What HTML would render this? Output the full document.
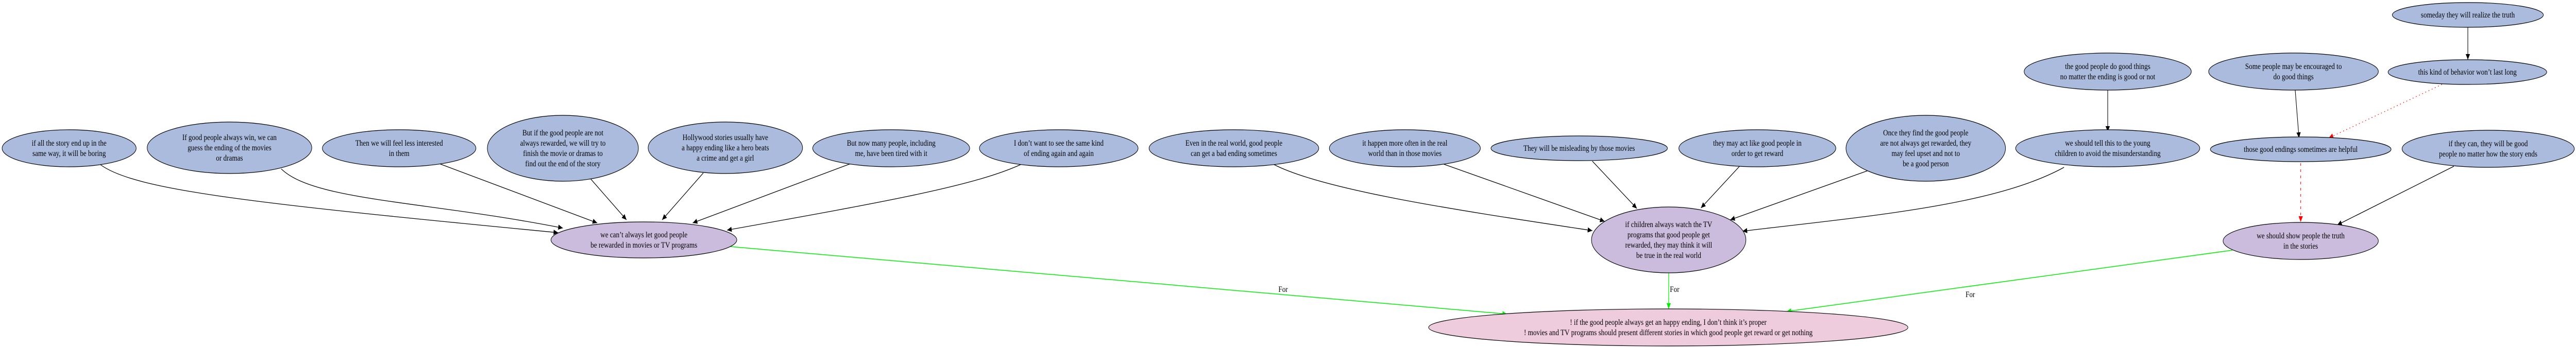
<!DOCTYPE html>
<html><head><meta charset="utf-8"><style>
html,body{margin:0;padding:0;background:#fff;width:100%;height:100%;overflow:hidden;}
svg{display:block;width:100vw;height:100vh;}
text{font-family:"Liberation Serif","Times New Roman",serif;font-size:16px;fill:#000;text-anchor:middle;}
.b{fill:#aabbdd;stroke:#000;stroke-width:1.2;}
.p{fill:#cbbbdd;stroke:#000;stroke-width:1.2;}
.k{fill:#eecbdd;stroke:#000;stroke-width:1.2;}
.e{fill:none;stroke:#000;stroke-width:1.3;}
.g{fill:none;stroke:#00ee00;stroke-width:1.5;}
</style></head><body>
<svg viewBox="0 0 6073 674" preserveAspectRatio="none" xmlns="http://www.w3.org/2000/svg">
<defs>
<marker id="ab" markerUnits="userSpaceOnUse" markerWidth="12" markerHeight="10" refX="11" refY="5" orient="auto"><path d="M0,0 L11,5 L0,10 z" fill="#000"/></marker>
<marker id="ag" markerUnits="userSpaceOnUse" markerWidth="12" markerHeight="10" refX="11" refY="5" orient="auto"><path d="M0,0 L11,5 L0,10 z" fill="#00ee00"/></marker>
<marker id="ar" markerUnits="userSpaceOnUse" markerWidth="12" markerHeight="10" refX="11" refY="5" orient="auto"><path d="M0,0 L11,5 L0,10 z" fill="#ff0000"/></marker>
</defs>

<path class="e" marker-end="url(#ab)" d="M237,320 C320,370 600,395 1316,452"/>
<path class="e" marker-end="url(#ab)" d="M663,328 C740,390 1000,390 1327,443"/>
<path class="e" marker-end="url(#ab)" d="M1036,318 L1408,433"/>
<path class="e" marker-end="url(#ab)" d="M1393,348 L1477,427"/>
<path class="e" marker-end="url(#ab)" d="M1658,336 L1561,427"/>
<path class="e" marker-end="url(#ab)" d="M2005,318 L1633,433"/>
<path class="e" marker-end="url(#ab)" d="M2408,319 C2300,360 2100,390 1714,447"/>
<path class="e" marker-end="url(#ab)" d="M3002,319 C3120,370 3450,410 3754,448"/>
<path class="e" marker-end="url(#ab)" d="M3404,319 L3783,430"/>
<path class="e" marker-end="url(#ab)" d="M3754,313 L3859,405"/>
<path class="e" marker-end="url(#ab)" d="M4101,323 L4010,404"/>
<path class="e" marker-end="url(#ab)" d="M4405,331 L4079,427"/>
<path class="e" marker-end="url(#ab)" d="M4866,325 C4700,400 4400,420 4108,449"/>
<path class="e" marker-end="url(#ab)" d="M4969,175 L4969,256"/>
<path class="e" marker-end="url(#ab)" d="M5411,175 L5420,268"/>
<path class="e" marker-end="url(#ab)" d="M5818,53 L5818,116"/>
<path class="e" marker-end="url(#ar)" style="stroke:#ff0000;stroke-dasharray:2,6" d="M5757,164 L5490,268"/>
<path class="e" marker-end="url(#ar)" style="stroke:#ff0000;stroke-dasharray:5,7" d="M5424,317 L5424,431"/>
<path class="e" marker-end="url(#ab)" d="M5785,323 L5510,437"/>
<path class="g" marker-end="url(#ag)" d="M1722,479 L3553,610"/>
<path class="g" marker-end="url(#ag)" d="M3934,531 L3934,600"/>
<path class="g" marker-end="url(#ag)" d="M5263,486 L4212,605"/>
<text x="3025" y="567">For</text>
<text x="3948" y="567">For</text>
<text x="4645" y="577">For</text>

<ellipse class="b" cx="163" cy="288" rx="158" ry="36"/>
<text x="163" y="283">if all the story end up in the</text><text x="163" y="303">same way, it will be boring</text>
<ellipse class="b" cx="541" cy="287" rx="194" ry="50"/>
<text x="541" y="272">If good people always win, we can</text><text x="541" y="292">guess the ending of the movies</text><text x="541" y="312">or dramas</text>
<ellipse class="b" cx="941" cy="288" rx="181" ry="36"/>
<text x="941" y="283">Then we will feel less interested</text><text x="941" y="303">in them</text>
<ellipse class="b" cx="1327" cy="288" rx="178" ry="64"/>
<text x="1327" y="263">But if the good people are not</text><text x="1327" y="283">always rewarded, we will try to</text><text x="1327" y="303">finish the movie or dramas to</text><text x="1327" y="323">find out the end of the story</text>
<ellipse class="b" cx="1710" cy="287" rx="182" ry="50"/>
<text x="1710" y="272">Hollywood stories usually have</text><text x="1710" y="292">a happy ending like a hero beats</text><text x="1710" y="312">a crime and get a girl</text>
<ellipse class="b" cx="2101" cy="288" rx="185" ry="36"/>
<text x="2101" y="283">But now many people, including</text><text x="2101" y="303">me, have been tired with it</text>
<ellipse class="b" cx="2496" cy="288" rx="187" ry="36"/>
<text x="2496" y="283">I don’t want to see the same kind</text><text x="2496" y="303">of ending again and again</text>
<ellipse class="b" cx="2909" cy="288" rx="200" ry="36"/>
<text x="2909" y="283">Even in the real world, good people</text><text x="2909" y="303">can get a bad ending sometimes</text>
<ellipse class="b" cx="3312" cy="288" rx="178" ry="36"/>
<text x="3312" y="283">it happen more often in the real</text><text x="3312" y="303">world than in those movies</text>
<ellipse class="b" cx="3723" cy="288" rx="208" ry="24"/>
<text x="3723" y="293">They will be misleading by those movies</text>
<ellipse class="b" cx="4143" cy="288" rx="185" ry="36"/>
<text x="4143" y="283">they may act like good people in</text><text x="4143" y="303">order to get reward</text>
<ellipse class="b" cx="4540" cy="288" rx="188" ry="64"/>
<text x="4540" y="263">Once they find the good people</text><text x="4540" y="283">are not always get rewarded, they</text><text x="4540" y="303">may feel upset and not to</text><text x="4540" y="323">be a good person</text>
<ellipse class="b" cx="4969" cy="288" rx="217" ry="36"/>
<text x="4969" y="283">we should tell this to the young</text><text x="4969" y="303">children to avoid the misunderstanding</text>
<ellipse class="b" cx="4969" cy="139" rx="197" ry="36"/>
<text x="4969" y="134">the good people do good things</text><text x="4969" y="154">no matter the ending is good or not</text>
<ellipse class="b" cx="5407" cy="139" rx="200" ry="36"/>
<text x="5407" y="134">Some people may be encouraged to</text><text x="5407" y="154">do good things</text>
<ellipse class="b" cx="5818" cy="29" rx="178" ry="24"/>
<text x="5818" y="34">someday they will realize the truth</text>
<ellipse class="b" cx="5817" cy="140" rx="187" ry="24"/>
<text x="5817" y="145">this kind of behavior won’t last long</text>
<ellipse class="b" cx="5424" cy="290" rx="213" ry="24"/>
<text x="5424" y="295">those good endings sometimes are helpful</text>
<ellipse class="b" cx="5866" cy="289" rx="203" ry="36"/>
<text x="5866" y="284">if they can, they will be good</text><text x="5866" y="304">people no matter how the story ends</text>

<ellipse class="p" cx="1518" cy="466" rx="219" ry="35"/>
<text x="1518" y="461">we can’t always let good people</text><text x="1518" y="481">be rewarded in movies or TV programs</text>
<ellipse class="p" cx="3934" cy="466" rx="182" ry="64"/>
<text x="3934" y="441">if children always watch the TV</text><text x="3934" y="461">programs that good people get</text><text x="3934" y="481">rewarded, they may think it will</text><text x="3934" y="501">be true in the real world</text>
<ellipse class="p" cx="5424" cy="468" rx="183" ry="36"/>
<text x="5424" y="463">we should show people the truth</text><text x="5424" y="483">in the stories</text>

<ellipse class="k" cx="3933" cy="636" rx="565" ry="36"/>
<text x="3933" y="631">! if the good people always get an happy ending, I don’t think it’s proper</text>
<text x="3933" y="651">! movies and TV programs should present different stories in which good people get reward or get nothing</text>
</svg>
</body></html>
